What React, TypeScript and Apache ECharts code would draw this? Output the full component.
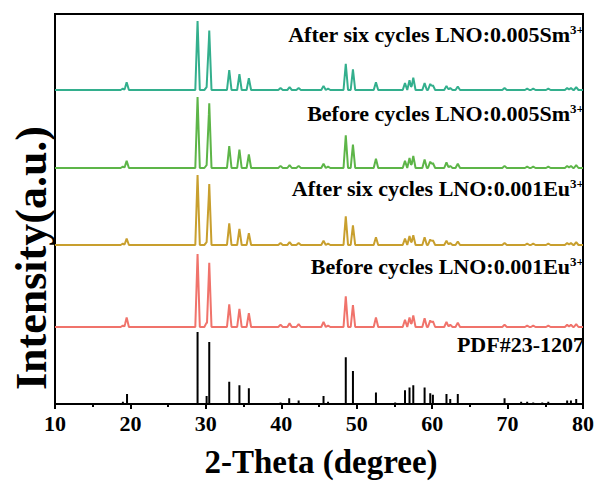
import React, { useEffect, useRef } from "react";
import * as echarts from "echarts";

// 2-theta positions of the reference (PDF) sticks
const pdfPos = [19.0, 19.55, 28.9, 30.1, 30.45, 33.1, 34.45, 35.7, 39.9, 41.05, 42.3, 45.6, 46.2, 48.55, 49.5, 52.55, 55.1, 56.4, 57.0, 57.5, 59.0, 59.75, 60.1, 61.9, 62.4, 63.4, 69.6, 71.8, 72.6, 73.4, 74.6, 75.4, 77.9, 78.4, 79.1];
const pdfInt = [3, 14, 100, 11, 86, 31, 26, 22, 2, 8, 5, 11, 3, 65, 46, 16, 2, 19, 23, 26, 23, 15, 13, 14, 7, 14, 8, 3, 3, 2, 2, 3, 5, 5, 7];

// peak positions of the measured patterns
const peakPos = [19.0, 19.5, 28.9, 30.1, 30.45, 33.1, 34.45, 35.7, 39.9, 41.1, 42.3, 45.6, 46.2, 48.55, 49.5, 52.55, 56.4, 57.0, 57.5, 59.0, 59.75, 60.1, 61.9, 62.4, 63.4, 69.6, 72.6, 73.4, 75.4, 77.9, 78.4, 79.1];
const afterSm = [2, 11, 100, 4, 86, 29, 23, 17, 3, 4, 3, 6, 2, 38, 30, 11, 10, 14, 18, 10, 9, 7, 6, 3, 5, 3, 2, 2, 2, 3, 3, 4];
const beforeSm = [2, 10, 100, 4, 91, 31, 26, 19, 3, 4, 3, 6, 2, 46, 33, 13, 10, 14, 17, 12, 9, 7, 8, 3, 6, 3, 2, 2, 2, 3, 3, 4];
const afterEu = [2, 9, 100, 4, 87, 31, 23, 17, 3, 4, 3, 6, 2, 41, 28, 11, 9, 13, 14, 11, 8, 7, 6, 3, 5, 3, 2, 2, 2, 3, 3, 4];
const beforeEu = [2, 13, 100, 6, 88, 31, 25, 19, 3, 5, 4, 7, 2, 42, 30, 13, 10, 13, 16, 12, 9, 8, 7, 3, 6, 3, 2, 2, 2, 3, 3, 4];

const xTicks = [10, 20, 30, 40, 50, 60, 70, 80];

const FONT = "'Liberation Serif', 'Times New Roman', serif";
const HALF_WIDTH = 0.3;

function profile(pos: number[], ints: number[], scale: number, offset: number) {
  const xs = new Set<number>([xTicks[0], xTicks[xTicks.length - 1]]);
  pos.forEach((p) => {
    xs.add(+(p - HALF_WIDTH).toFixed(3));
    xs.add(p);
    xs.add(+(p + HALF_WIDTH).toFixed(3));
  });
  const sorted = Array.from(xs).sort((a, b) => a - b);
  return sorted.map((x) => {
    let y = 0;
    pos.forEach((p, i) => {
      const d = Math.abs(x - p);
      if (d < HALF_WIDTH) y += ints[i] * (1 - d / HALF_WIDTH);
    });
    return [x, offset + (y * scale) / 100];
  });
}

function sticks(pos: number[], ints: number[], scale: number) {
  const pts: number[][] = [[xTicks[0], 0]];
  pos.forEach((p, i) => {
    pts.push([p, 0], [p, (ints[i] * scale) / 100], [p, 0]);
  });
  pts.push([xTicks[xTicks.length - 1], 0]);
  return pts;
}

function label(main: string, sup: string | null, y: number) {
  return {
    type: "text",
    x: 584,
    y,
    style: {
      text: sup ? `{n|${main}}{s|${sup}}` : `{n|${main}}`,
      align: "right",
      verticalAlign: "middle",
      textAlign: "right",
      textVerticalAlign: "middle",
      fill: "#000",
      rich: {
        n: { fontSize: 22, fontWeight: "bold", fontFamily: FONT, fill: "#000", color: "#000" },
        s: { fontSize: 13, fontWeight: "bold", fontFamily: FONT, fill: "#000", color: "#000", verticalAlign: "top" },
      },
    },
  };
}

export default function App() {
  const ref = useRef<HTMLDivElement>(null);
  useEffect(() => {
    document.body.style.margin = "0";
    if (!ref.current) return;
    const chart = echarts.init(ref.current, null, { renderer: "svg" });
    const lineSeries = (name: string, data: number[][], color: string) => ({
      name,
      type: "line",
      data,
      showSymbol: false,
      symbol: "none",
      lineStyle: { color, width: 2 },
      z: 3,
    });
    chart.setOption({
      animation: false,
      backgroundColor: "#fff",
      grid: { left: 55, right: 15, top: 14, bottom: 84, show: true, borderColor: "#000", borderWidth: 2 },
      xAxis: {
        type: "value",
        min: 10,
        max: 80,
        interval: 10,
        axisLine: { show: true, lineStyle: { color: "#000", width: 2 } },
        axisTick: { show: true, inside: false, length: 5, lineStyle: { color: "#000", width: 2 } },
        minorTick: { show: true, splitNumber: 2, length: 3, lineStyle: { color: "#000", width: 2 } },
        axisLabel: { color: "#000", fontSize: 22, fontWeight: "bold", fontFamily: FONT, margin: 8 },
        splitLine: { show: false },
      },
      yAxis: {
        type: "value",
        min: 0,
        max: 390,
        axisLine: { show: true, lineStyle: { color: "#000", width: 2 } },
        axisTick: { show: false },
        axisLabel: { show: false },
        splitLine: { show: false },
      },
      series: [
        lineSeries("PDF#23-1207", sticks(pdfPos, pdfInt, 72), "#000"),
        lineSeries("Before Eu", profile(peakPos, beforeEu, 73, 77), "#F0736B"),
        lineSeries("After Eu", profile(peakPos, afterEu, 70, 159), "#C89F2E"),
        lineSeries("Before Sm", profile(peakPos, beforeSm, 71, 236), "#5DB548"),
        lineSeries("After Sm", profile(peakPos, afterSm, 69, 314), "#33AF8D"),
      ],
      graphic: [
        label("After six cycles LNO:0.005Sm", "3+", 34),
        label("Before cycles LNO:0.005Sm", "3+", 113),
        label("After six cycles LNO:0.001Eu", "3+", 188),
        label("Before cycles LNO:0.001Eu", "3+", 266),
        label("PDF#23-1207", null, 344),
        {
          type: "text",
          x: 321,
          y: 462,
          style: {
            text: "2-Theta (degree)",
            font: `bold 33px ${FONT}`,
            fontSize: 33,
            fontWeight: "bold",
            fontFamily: FONT,
            fill: "#000",
            align: "center",
            verticalAlign: "middle",
            textAlign: "center",
            textVerticalAlign: "middle",
          },
        },
        {
          type: "text",
          x: 31,
          y: 258,
          rotation: Math.PI / 2,
          style: {
            text: "Intensity(a.u.)",
            font: `bold 44px ${FONT}`,
            fontSize: 44,
            fontWeight: "bold",
            fontFamily: FONT,
            fill: "#000",
            align: "center",
            verticalAlign: "middle",
            textAlign: "center",
            textVerticalAlign: "middle",
          },
        },
      ],
    });
    return () => chart.dispose();
  }, []);
  return <div ref={ref} style={{ width: 598, height: 488 }} />;
}
